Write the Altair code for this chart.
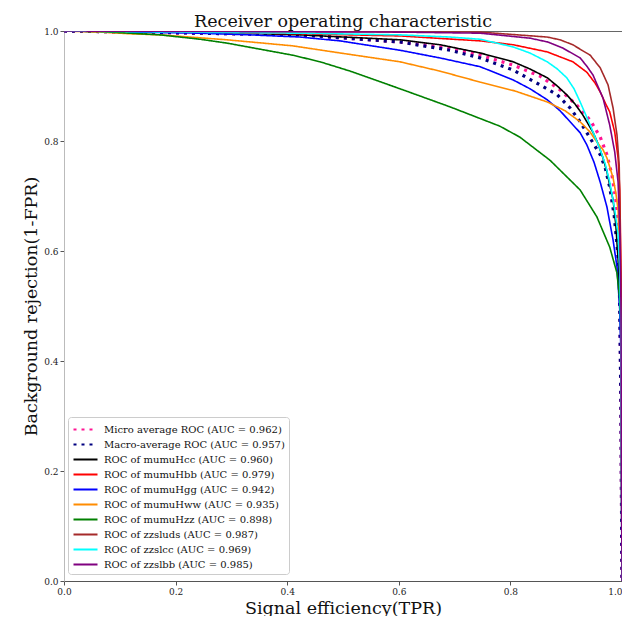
import altair as alt
import pandas as pd

# ---- data (TPR, 1-FPR) ----
series_names = [
    "Micro average ROC (AUC = 0.962)",
    "Macro-average ROC (AUC = 0.957)",
    "ROC of mumuHcc (AUC = 0.960)",
    "ROC of mumuHbb (AUC = 0.979)",
    "ROC of mumuHgg (AUC = 0.942)",
    "ROC of mumuHww (AUC = 0.935)",
    "ROC of mumuHzz (AUC = 0.898)",
    "ROC of zzsluds (AUC = 0.987)",
    "ROC of zzslcc (AUC = 0.969)",
    "ROC of zzslbb (AUC = 0.985)",
]
series_kinds = ["average", "average"] + ["class"] * 8
series_colors = ["deeppink", "navy", "black", "red", "blue", "darkorange",
                 "green", "brown", "cyan", "purple"]

micro_x = [0.0, 0.423, 0.602, 0.692, 0.746, 0.805, 0.853, 0.889, 0.919, 0.943, 0.961, 0.973, 0.982, 0.989, 0.993, 0.996, 0.998, 1.0]
micro_y = [1.0, 0.993, 0.980, 0.969, 0.956, 0.938, 0.918, 0.893, 0.865, 0.838, 0.807, 0.775, 0.738, 0.693, 0.651, 0.547, 0.330, 0.0]

macro_x = [0.0, 0.423, 0.602, 0.692, 0.746, 0.805, 0.853, 0.884, 0.907, 0.925, 0.943, 0.961, 0.970, 0.978, 0.986, 0.991, 0.995, 0.998, 1.0]
macro_y = [1.0, 0.993, 0.980, 0.965, 0.951, 0.929, 0.902, 0.884, 0.860, 0.835, 0.805, 0.775, 0.751, 0.716, 0.665, 0.611, 0.565, 0.330, 0.0]

hcc_x = [0.0, 0.244, 0.423, 0.602, 0.674, 0.746, 0.805, 0.835, 0.866, 0.884, 0.901, 0.916, 0.930, 0.948, 0.957, 0.966, 0.973, 0.978, 0.984, 0.989, 0.993, 0.996, 0.998, 1.0]
hcc_y = [1.0, 0.998, 0.993, 0.984, 0.975, 0.960, 0.944, 0.931, 0.915, 0.900, 0.884, 0.867, 0.847, 0.816, 0.795, 0.769, 0.744, 0.720, 0.693, 0.647, 0.584, 0.500, 0.438, 0.0]

hbb_x = [0.0, 0.244, 0.423, 0.602, 0.746, 0.805, 0.866, 0.912, 0.937, 0.952, 0.961, 0.971, 0.978, 0.987, 0.993, 0.996, 0.998, 1.0, 1.0]
hbb_y = [1.0, 0.998, 0.995, 0.991, 0.982, 0.975, 0.962, 0.944, 0.925, 0.905, 0.889, 0.867, 0.853, 0.816, 0.769, 0.711, 0.584, 0.420, 0.0]

hgg_x = [0.0, 0.118, 0.244, 0.333, 0.423, 0.495, 0.602, 0.674, 0.746, 0.805, 0.835, 0.866, 0.889, 0.907, 0.925, 0.937, 0.950, 0.961, 0.973, 0.984, 0.991, 0.996, 0.998, 1.0]
hgg_y = [1.0, 0.998, 0.996, 0.993, 0.989, 0.982, 0.965, 0.951, 0.935, 0.911, 0.895, 0.875, 0.855, 0.835, 0.815, 0.793, 0.761, 0.725, 0.680, 0.620, 0.571, 0.493, 0.420, 0.0]

hww_x = [0.0, 0.065, 0.118, 0.172, 0.292, 0.410, 0.495, 0.602, 0.674, 0.746, 0.808, 0.866, 0.898, 0.925, 0.943, 0.955, 0.966, 0.973, 0.978, 0.984, 0.989, 0.993, 0.996, 0.998, 1.0]
hww_y = [1.0, 0.998, 0.995, 0.993, 0.984, 0.973, 0.960, 0.944, 0.927, 0.907, 0.891, 0.871, 0.855, 0.835, 0.816, 0.798, 0.784, 0.769, 0.753, 0.733, 0.705, 0.675, 0.584, 0.475, 0.0]

hzz_x = [0.0, 0.065, 0.118, 0.172, 0.244, 0.292, 0.351, 0.410, 0.459, 0.513, 0.602, 0.692, 0.781, 0.817, 0.871, 0.925, 0.955, 0.978, 0.991, 0.996, 0.998, 1.0, 1.0]
hzz_y = [1.0, 0.999, 0.996, 0.993, 0.985, 0.978, 0.967, 0.956, 0.944, 0.927, 0.895, 0.862, 0.827, 0.807, 0.765, 0.711, 0.662, 0.607, 0.560, 0.511, 0.475, 0.450, 0.0]

uds_x = [0.0, 0.746, 0.866, 0.889, 0.912, 0.928, 0.943, 0.961, 0.975, 0.984, 0.991, 0.995, 0.996, 0.998, 1.0]
uds_y = [1.0, 0.998, 0.989, 0.984, 0.975, 0.965, 0.956, 0.933, 0.902, 0.860, 0.811, 0.756, 0.693, 0.547, 0.0]

slcc_x = [0.0, 0.423, 0.602, 0.692, 0.746, 0.805, 0.835, 0.866, 0.884, 0.901, 0.914, 0.925, 0.943, 0.961, 0.970, 0.978, 0.987, 0.993, 0.996, 0.998, 1.0]
slcc_y = [1.0, 0.996, 0.993, 0.989, 0.985, 0.971, 0.960, 0.944, 0.931, 0.915, 0.895, 0.871, 0.829, 0.784, 0.758, 0.725, 0.675, 0.629, 0.560, 0.438, 0.0]

slbb_x = [0.0, 0.602, 0.746, 0.835, 0.867, 0.894, 0.925, 0.937, 0.948, 0.966, 0.978, 0.987, 0.993, 0.996, 0.998, 1.0]
slbb_y = [1.0, 0.998, 0.996, 0.987, 0.980, 0.969, 0.951, 0.936, 0.920, 0.878, 0.829, 0.780, 0.725, 0.638, 0.511, 0.0]

curves = [
    (micro_x, micro_y), (macro_x, macro_y), (hcc_x, hcc_y), (hbb_x, hbb_y),
    (hgg_x, hgg_y), (hww_x, hww_y), (hzz_x, hzz_y), (uds_x, uds_y),
    (slcc_x, slcc_y), (slbb_x, slbb_y),
]

rows = []
for name, kind, (xs, ys) in zip(series_names, series_kinds, curves):
    for i, (xv, yv) in enumerate(zip(xs, ys)):
        rows.append({"series": name, "kind": kind, "tpr": xv, "rej": yv, "idx": i})
df = pd.DataFrame(rows)

dash_range = [[3, 5], [3, 5]] + [[1, 0]] * 8

FONT = "DejaVu Serif"
ticks = [0, 0.2, 0.4, 0.6, 0.8, 1.0]

leg = alt.Legend(
    title=None, orient="none", legendX=4, legendY=386,
    symbolType="M-1,0H2.43", symbolSize=196, symbolStrokeWidth=2.2,
    labelFont=FONT, labelFontSize=10, labelColor="#111", labelLimit=400,
    strokeColor="#cccccc", fillColor="white", padding=4, cornerRadius=3,
    rowPadding=1, labelOffset=15,
)

chart = alt.Chart(df).mark_line(clip=True).encode(
    x=alt.X("tpr:Q", scale=alt.Scale(domain=[0, 1], nice=False),
            axis=alt.Axis(title="Signal efficiency(TPR)", values=ticks,
                          format=".1f", grid=False, tickSize=4, labelPadding=2,
                          labelFont=FONT, labelFontSize=9, labelColor="#222",
                          labelAlign=alt.ExprRef("datum.value >= 1 ? 'right' : 'center'"),
                          titleFont=FONT, titleFontSize=17.5, titleFontWeight="normal",
                          titleColor="#111", titlePadding=3,
                          domainColor="#555", tickColor="#555", labelFlush=False)),
    y=alt.Y("rej:Q", scale=alt.Scale(domain=[0, 1], nice=False),
            axis=alt.Axis(title="Background rejection(1-FPR)", values=ticks,
                          format=".1f", grid=False, tickSize=4, labelPadding=2,
                          labelFont=FONT, labelFontSize=9, labelColor="#222",
                          titleFont=FONT, titleFontSize=17.5, titleFontWeight="normal",
                          titleColor="#111", titlePadding=3,
                          domainColor="#bbbbbb", tickColor="#555", labelFlush=False)),
    color=alt.Color("series:N", scale=alt.Scale(domain=series_names, range=series_colors), legend=leg),
    strokeDash=alt.StrokeDash("series:N", scale=alt.Scale(domain=series_names, range=dash_range), legend=leg),
    strokeWidth=alt.StrokeWidth("kind:N", scale=alt.Scale(type="ordinal", domain=["average", "class"], range=[3.2, 1.6]), legend=None),
    order=alt.Order("idx:Q"),
).properties(
    width=558, height=550,
    title=alt.TitleParams("Receiver operating characteristic", font=FONT, fontSize=17.5,
                          fontWeight="normal", anchor="middle", color="#111", offset=-3),
).configure(
    autosize=alt.AutoSizeParams(type="none"),
    padding={"left": 56, "top": 23, "right": 0, "bottom": 35},
).configure_view(stroke="#666", strokeWidth=1)

chart.save("out.html", embed_options={"renderer": "svg", "actions": False})
